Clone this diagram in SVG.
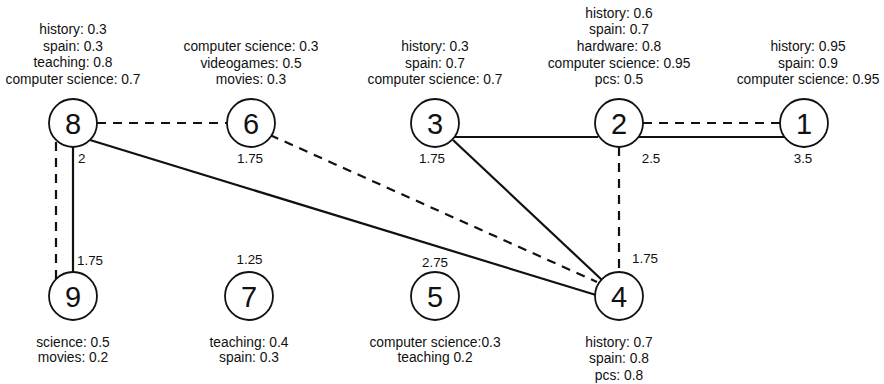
<svg xmlns="http://www.w3.org/2000/svg" width="884" height="384" viewBox="0 0 884 384">
<style>
.n circle{fill:#fff;stroke:#111;stroke-width:1.8}
.n text.num{font-family:"Liberation Sans",Arial,sans-serif;font-size:29px;text-anchor:middle;fill:#111}
text{font-family:"Liberation Sans",Arial,sans-serif;fill:#111}
.lab{font-size:13.8px;text-anchor:middle}
.w{font-size:13.4px}
.s{stroke:#111;stroke-width:2.2;fill:none}
.d{stroke:#111;stroke-width:2.2;fill:none;stroke-dasharray:9 7}
</style>
<rect width="884" height="384" fill="#fff"/>
<g id="edges">
<line class="d" x1="97" y1="123" x2="227" y2="123"/>
<line class="d" x1="270" y1="135" x2="597" y2="282"/>
<line class="s" x1="90" y1="140" x2="596" y2="295"/>
<line class="s" x1="73" y1="147" x2="73" y2="272"/>
<line class="d" x1="56" y1="142" x2="56" y2="280"/>
<line class="s" x1="452" y1="137" x2="598" y2="137"/>
<line class="s" x1="453" y1="140" x2="602" y2="280"/>
<line class="d" x1="643" y1="123" x2="780" y2="123"/>
<line class="s" x1="637" y1="137" x2="787" y2="137"/>
<line class="d" x1="619" y1="147" x2="619" y2="272"/>
</g>
<g id="weights" class="w">
<text x="78" y="163">2</text>
<text x="250" y="163" text-anchor="middle">1.75</text>
<text x="432" y="163" text-anchor="middle">1.75</text>
<text x="651" y="163" text-anchor="middle">2.5</text>
<text x="803" y="163" text-anchor="middle">3.5</text>
<text x="77" y="265">1.75</text>
<text x="249.5" y="264" text-anchor="middle">1.25</text>
<text x="435" y="267" text-anchor="middle">2.75</text>
<text x="632" y="263">1.75</text>
</g>
<g id="node8" class="n">
<circle cx="73" cy="123" r="24"/>
<text class="num" x="73" y="133.5">8</text>
<text class="lab" x="73" y="34">history: 0.3</text>
<text class="lab" x="73" y="50.5">spain: 0.3</text>
<text class="lab" x="73" y="67">teaching: 0.8</text>
<text class="lab" x="73" y="84">computer science: 0.7</text>
</g>
<g id="node6" class="n">
<circle cx="251" cy="123" r="24"/>
<text class="num" x="251" y="133.5">6</text>
<text class="lab" x="251" y="51">computer science: 0.3</text>
<text class="lab" x="251" y="67.5">videogames: 0.5</text>
<text class="lab" x="251" y="84">movies: 0.3</text>
</g>
<g id="node3" class="n">
<circle cx="435" cy="123" r="24"/>
<text class="num" x="435" y="133.5">3</text>
<text class="lab" x="435" y="51">history: 0.3</text>
<text class="lab" x="435" y="67.5">spain: 0.7</text>
<text class="lab" x="435" y="84">computer science: 0.7</text>
</g>
<g id="node2" class="n">
<circle cx="619" cy="123" r="24"/>
<text class="num" x="619" y="133.5">2</text>
<text class="lab" x="619" y="18">history: 0.6</text>
<text class="lab" x="619" y="34">spain: 0.7</text>
<text class="lab" x="619" y="51">hardware: 0.8</text>
<text class="lab" x="619" y="67.5">computer science: 0.95</text>
<text class="lab" x="619" y="84">pcs: 0.5</text>
</g>
<g id="node1" class="n">
<circle cx="804" cy="123" r="24"/>
<text class="num" x="804" y="133.5">1</text>
<text class="lab" x="808" y="51">history: 0.95</text>
<text class="lab" x="808" y="67.5">spain: 0.9</text>
<text class="lab" x="808" y="84">computer science: 0.95</text>
</g>
<g id="node9" class="n">
<circle cx="73" cy="296" r="24"/>
<text class="num" x="73" y="306.5">9</text>
<text class="lab" x="73" y="347">science: 0.5</text>
<text class="lab" x="73" y="362">movies: 0.2</text>
</g>
<g id="node7" class="n">
<circle cx="249" cy="296" r="24"/>
<text class="num" x="249" y="306.5">7</text>
<text class="lab" x="249" y="347">teaching: 0.4</text>
<text class="lab" x="249" y="362">spain: 0.3</text>
</g>
<g id="node5" class="n">
<circle cx="435" cy="296" r="24"/>
<text class="num" x="435" y="306.5">5</text>
<text class="lab" x="435" y="347">computer science:0.3</text>
<text class="lab" x="435" y="362">teaching 0.2</text>
</g>
<g id="node4" class="n">
<circle cx="619" cy="296" r="24"/>
<text class="num" x="619" y="306.5">4</text>
<text class="lab" x="619" y="347">history: 0.7</text>
<text class="lab" x="619" y="362.5">spain: 0.8</text>
<text class="lab" x="619" y="380">pcs: 0.8</text>
</g>
</svg>
